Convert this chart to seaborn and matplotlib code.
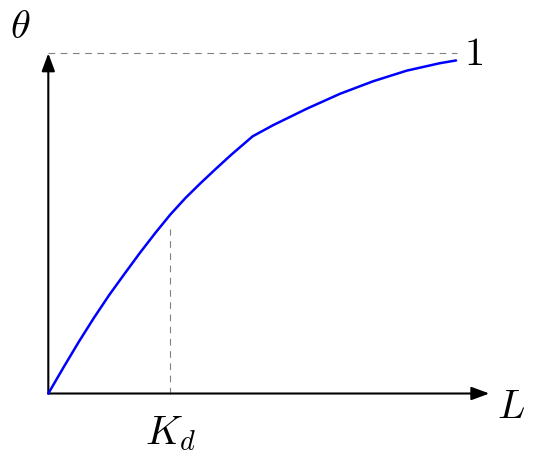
import numpy as np
import pandas as pd
import seaborn as sns
import matplotlib.pyplot as plt

# curve values (L in units of K_d, theta as fraction)
L_vals = [0, 0.125, 0.25, 0.375, 0.5, 0.625, 0.75, 0.875, 1.0, 1.125,
          1.25, 1.375, 1.5, 1.675,
          1.844, 2.118, 2.391, 2.664, 2.938, 3.211, 3.342]
theta_vals = [0, 0.077, 0.152, 0.223, 0.290, 0.352, 0.413, 0.471, 0.526, 0.575,
              0.619, 0.661, 0.702, 0.756,
              0.789, 0.837, 0.881, 0.918, 0.949, 0.971, 0.979]

kd = 1.0
kd_guide_top = 0.4835
theta_max = 1.0
guide_end = 3.348
x_axis_end = 3.615

sns.set_theme(style="white")
plt.rcParams['mathtext.fontset'] = 'cm'
plt.rcParams['text.color'] = 'black'

fig = plt.figure(figsize=(5.34, 4.6), dpi=100)
ax = fig.add_axes([0, 0, 1, 1])
ax.set_xlim(-0.396, 3.981)
ax.set_ylim(-0.1925, 1.1596)
ax.axis('off')

df = pd.DataFrame({'L': L_vals, 'theta': theta_vals})

# dashed guides
dash = dict(color='#808080', lw=0.8, dashes=(6, 5))
ax.plot([0, guide_end], [theta_max, theta_max], **dash, zorder=1)
ax.plot([kd, kd], [0, kd_guide_top], **dash, zorder=1)

# binding curve
sns.lineplot(data=df, x='L', y='theta', ax=ax, color='#0000ff', lw=1.8,
             sort=False, zorder=3)

# axes with arrows
arrow = dict(arrowstyle='-|>,head_length=10.8,head_width=4', lw=1.5,
             color='black', shrinkA=0, shrinkB=0, mutation_scale=1)
ax.annotate('', xy=(x_axis_end, 0), xytext=(0, 0), arrowprops=arrow, zorder=2)
ax.annotate('', xy=(0, theta_max), xytext=(0, 0), arrowprops=arrow, zorder=2)

fs = 29
ax.text(-0.232, 1.080, r'$\theta$', fontsize=fs, ha='center', va='center', color='black')
ax.text(3.485, 1.001, r'$1$', fontsize=fs, ha='center', va='center', color='black')
ax.text(3.793, -0.038, r'$L$', fontsize=fs, ha='center', va='center', color='black')
ax.text(1.002, -0.115, r'$K_d$', fontsize=fs, ha='center', va='center', color='black')

fig.savefig('out.png', dpi=100)
